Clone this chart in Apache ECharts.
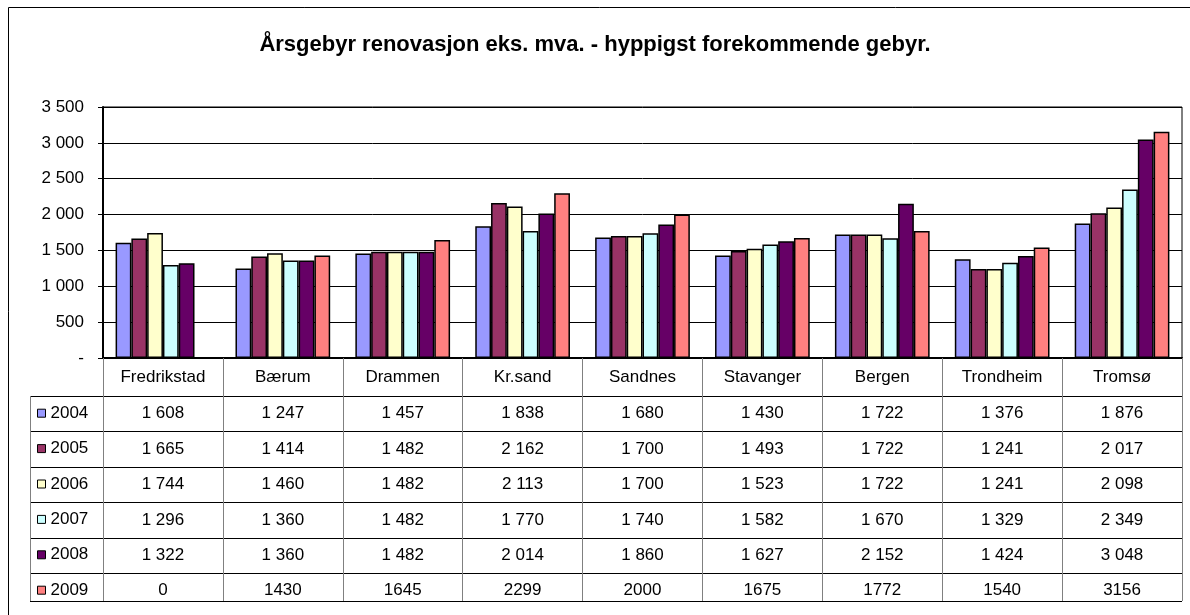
<!DOCTYPE html>
<html>
<head>
<meta charset="utf-8">
<script src="https://cdn.jsdelivr.net/npm/echarts@6/dist/echarts.min.js"></script>
<style>
  html, body { margin: 0; padding: 0; background: #fff; }
  #arsgebyr { width: 1190px; height: 615px; }
</style>
</head>
<body>
<div id="arsgebyr"></div>
<script>
var categories = ["Fredrikstad", "Bærum", "Drammen", "Kr.sand", "Sandnes", "Stavanger", "Bergen", "Trondheim", "Tromsø"];
var years = ["2004", "2005", "2006", "2007", "2008", "2009"];
var fee2004 = [1608, 1247, 1457, 1838, 1680, 1430, 1722, 1376, 1876];
var fee2005 = [1665, 1414, 1482, 2162, 1700, 1493, 1722, 1241, 2017];
var fee2006 = [1744, 1460, 1482, 2113, 1700, 1523, 1722, 1241, 2098];
var fee2007 = [1296, 1360, 1482, 1770, 1740, 1582, 1670, 1329, 2349];
var fee2008 = [1322, 1360, 1482, 2014, 1860, 1627, 2152, 1424, 3048];
var fee2009 = [0, 1430, 1645, 2299, 2000, 1675, 1772, 1540, 3156];
var yMin = 0, yMax = 3500, yStep = 500;

var rows = [fee2004, fee2005, fee2006, fee2007, fee2008, fee2009];
// the 2009 row in the table is written without thousand separators
var grouped = [true, true, true, true, true, false];
var colors = ["#9999ff", "#993366", "#ffffcc", "#ccffff", "#660066", "#ff8080"];

// layout
var font = "Liberation Sans, Arial, sans-serif";
var fs = 17;
var W = 1190, H = 615;
var gridLeft = 103, gridRight = 1182, gridTop = 107, gridBottom = 358;
var headerH = 38, rowH = 35.4, tableLeft = 30, tableBottom = 601;

function spaced(v) {
  return String(v).replace(/\B(?=(\d{3})+(?!\d))/g, " ");
}

var myChart = echarts.init(document.getElementById("arsgebyr"));

var xAxes = [
  {
    type: "category",
    data: categories,
    position: "bottom",
    axisLine: { lineStyle: { color: "#000", width: 2 } },
    axisTick: { show: true, inside: false, length: tableBottom - gridBottom, lineStyle: { color: "#808080", width: 1 } },
    axisLabel: { interval: 0, margin: headerH / 2, verticalAlign: "middle", color: "#000", fontSize: fs, fontFamily: font }
  }
];
rows.forEach(function (vals, i) {
  xAxes.push({
    type: "category",
    data: vals.map(function (v) { return grouped[i] ? spaced(v) : String(v); }),
    position: "bottom",
    offset: headerH + rowH * i + rowH / 2,
    axisLine: { show: false },
    axisTick: { show: false },
    axisLabel: { interval: 0, margin: 0, verticalAlign: "middle", color: "#000", fontSize: fs, fontFamily: font }
  });
});

// table frame lines
var graphics = [
  { type: "rect", shape: { x: 8.5, y: 7.5, width: W, height: H }, style: { fill: "none", stroke: "#000", lineWidth: 1 }, silent: true }
];
for (var r = 0; r <= rows.length; r++) {
  var y = r < rows.length ? gridBottom + headerH + rowH * r : tableBottom;
  y = Math.round(y) + 0.5;
  graphics.push({ type: "line", shape: { x1: tableLeft, y1: y, x2: gridRight, y2: y }, style: { stroke: "#000", lineWidth: 1 }, silent: true });
}
graphics.push({ type: "line", shape: { x1: tableLeft + 0.5, y1: gridBottom + headerH, x2: tableLeft + 0.5, y2: tableBottom }, style: { stroke: "#808080", lineWidth: 1 }, silent: true });

var option = {
  animation: false,
  color: colors,
  title: {
    text: "Årsgebyr renovasjon eks. mva. - hyppigst forekommende gebyr.",
    left: "center",
    top: 29,
    textStyle: { fontFamily: font, fontSize: 22, fontWeight: "bold", color: "#000" }
  },
  legend: {
    data: years,
    orient: "vertical",
    left: tableLeft + 2,
    top: gridBottom + headerH + rowH / 2 - 14,
    itemWidth: 8,
    itemHeight: 8,
    itemGap: rowH - 17,
    itemTextGap: 4,
    icon: "rect",
    itemStyle: { borderColor: "#000", borderWidth: 1 },
    textStyle: { fontFamily: font, fontSize: fs, color: "#000", lineHeight: 16 },
    selectedMode: false
  },
  grid: {
    left: gridLeft,
    right: W - gridRight,
    top: gridTop,
    bottom: H - gridBottom,
    show: true,
    borderColor: "#000",
    borderWidth: 1
  },
  xAxis: xAxes,
  yAxis: {
    type: "value",
    min: yMin,
    max: yMax,
    interval: yStep,
    axisLine: { show: true, lineStyle: { color: "#000", width: 2 } },
    axisTick: { show: true, length: 5, lineStyle: { color: "#000" } },
    splitLine: { lineStyle: { color: "#000", width: 1 } },
    axisLabel: {
      margin: 19,
      color: "#000",
      fontSize: fs,
      fontFamily: font,
      formatter: function (v) { return v === 0 ? "-" : spaced(v); }
    }
  },
  series: rows.map(function (vals, i) {
    return {
      name: years[i],
      type: "bar",
      data: vals,
      barGap: "0%",
      barCategoryGap: "21%",
      itemStyle: { borderColor: "#000", borderWidth: 1.5 }
    };
  }),
  graphic: graphics
};

myChart.setOption(option);
</script>
</body>
</html>
